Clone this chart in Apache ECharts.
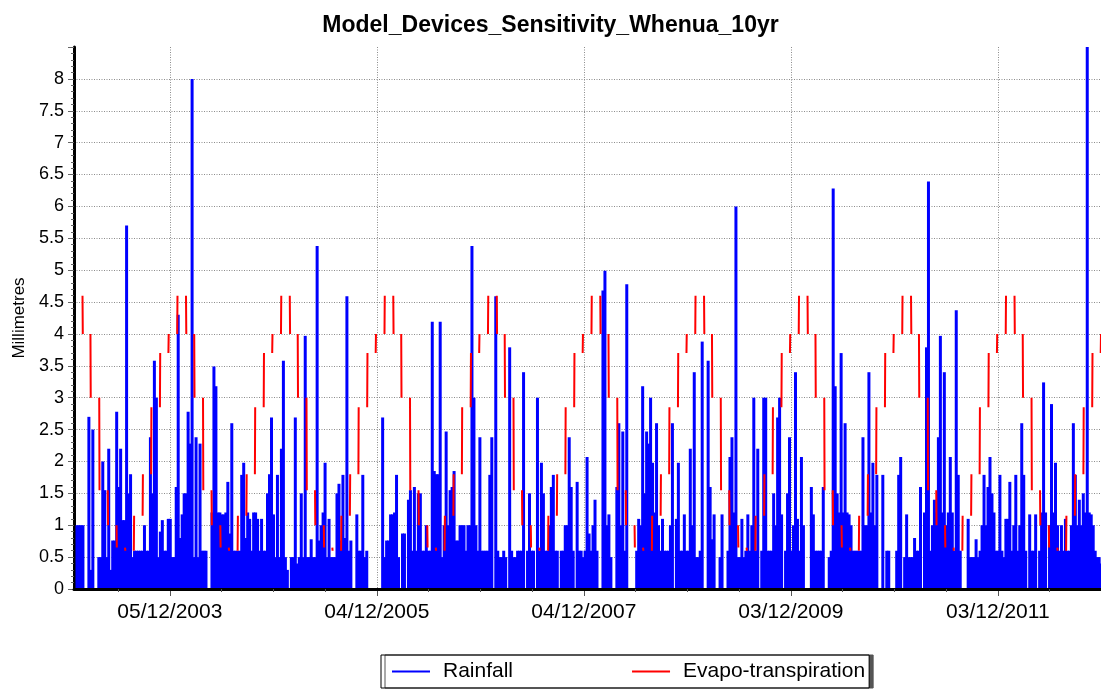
<!DOCTYPE html>
<html>
<head>
<meta charset="utf-8">
<title>Model_Devices_Sensitivity_Whenua_10yr</title>
<script src="https://cdn.jsdelivr.net/npm/echarts@6/dist/echarts.min.js"></script>
<style>
  html, body { margin: 0; padding: 0; background: #fff; }
  #myChart { width: 1101px; height: 689px; }
</style>
</head>
<body>
<div id="myChart"></div>
<script>
// rainfall in mm, one value per 7 days starting 01/01/2003 (peak of the week)
let rain2003 = [0,1.0,1.0,1.0,1.0,0,0,2.7,0.3,2.5, 0,0,0.5,0.5,2.0,1.55,0.5,2.2,0.3,0.76,
  0.76,2.78,1.6,2.2,1.08,1.08,5.7,1.5,1.8,0.5, 0.6,0.6,0.6,0.6,0.6,1.0,0.6,0.6,2.38,1.5,
  3.58,3.0,0.5,0.9,1.08,0.6,0.6,1.1,1.1,0.5, 0.5,1.6];
let rain2004 = [4.3,0.8,1.17,1.5,1.5,2.78,2.28,8.0, 0.5,2.38,0.5,2.28,0.6,0.6,0.6,0,0,1.2,
  3.49,3.18,1.2,1.2,1.17,1.17,1.2,1.68,0.87,2.6, 0.6,0.6,0.6,0.6,1.79,1.98,0.8,1.2,1.1,0.6,
  1.2,1.2,1.1,0.6,1.1,0.6,0.6,1.5,1.8,2.69, 1.17,0.5,1.79,0.5];
let rain2005 = [2.2,3.58,0.5,0.3,0,0.5, 0.5,2.69,0.4,0.5,1.5,0.5,3.97,0.5,0.5,0.78,
  0.5,0.5,5.38,0.76,1.0,1.2,1.98,0.5,1.1,0.5, 0.5,0.5,1.5,1.65,0.76,1.79,0.8,4.59,0.6,0.76,
  0,0,1.17,0.6,0.6,1.79,0.5,0.6,0,0, 0,0,0,0,0,2.69];
let rain2006 = [0.5,0.76,0.76,1.17, 1.17,1.2,1.79,0.5,0,0.87,0.87,0,1.4,1.55,
  0.6,1.6,0.6,1.5,1.5,0.6,0.6,1.0,0.6,0.6, 4.19,1.85,1.8,1.8,4.19,0.5,1.0,2.47,1.0,1.55,
  1.6,1.85,0.76,0.76,1.0,1.0,1.0,0.6,1.0,1.0, 5.38,3.0,1.0,0.6,2.38,0.6,0.6,0.6];
let rain2007 = [0.6,1.79, 2.38,0,4.59,0.6,0.5,0.5,0.6,0.5,0,3.79,
  0.6,0.5,0.5,0.6,0.6,0.6,3.4,0,0.6,1.5, 0.6,0.6,0,3.0,0.6,1.98,1.5,0.6,0.6,1.0,
  1.6,1.79,0.6,0.6,0,0.6,0.6,1.0,1.0,2.38, 1.6,0.6,0,1.68,0.6,0.6,0.5,0.6,2.07,0.87];
let rain2008 = [0.6,1.0,1.4,0.6,0,0,4.68,4.99,1.0,1.17, 0.5,0,0,1.6,2.6,1.0,2.47,0.6,4.78,0,
  0,0,0,0.6,1.1,1.0,3.18,1.5,2.47,2.28, 3.0,1.98,1.2,2.6,1.0,0.6,1.1,0.6,0.6,0.6,
  1.0,2.6,0,1.1,1.98,0.6,0.6,1.17,0.6,0.6, 2.2,1.0];
let rain2009 = [3.4,0.5,0.5,0.6,3.88,0,0,3.58, 1.6,0.78,1.17,0,0,0.5,1.17,0,0,0.6,
  2.07,2.38,1.2,6.0,0.5,0.5,1.1,0.5,0.6,1.17, 0.6,1.0,3.0,0.6,2.2,0,0.6,3.0,3.0,0.6,
  0.6,0.6,1.5,1.0,2.69,3.0,1.17,0,0.6,1.5, 2.38,0.6,1.0,3.4];
let rain2010 = [1.1,0.6,2.07,1.0,0,0, 0,1.6,1.17,0.6,0.6,0.6,0.6,1.6,0,0,
  0.5,0.6,6.28,3.18,1.5,1.2,3.7,1.2,2.6,1.2, 1.17,1.0,0.6,0.6,0.6,0.6,0.6,2.38,1.0,1.0,
  3.4,1.2,1.98,1.0,1.79,0,0,1.79,0,0.6, 0.6,0,0,0,0.6,1.79];
let rain2011 = [2.07,0,0.5,1.17, 0.5,0.5,0.5,0.8,0.6,0.6,1.6,0,1.2,3.79,
  6.39,0.6,1.0,1.4,1.2,2.38,3.97,1.2,3.4,1.0, 1.2,2.07,1.2,0.6,4.37,1.79,0.6,0,0,0,
  1.1,0.5,0.5,0.5,0.78,0.5,0.6,1.0,1.79,1.0, 1.6,2.07,1.5,1.2,0.6,0.6,1.79,0.6];
let rain2012 = [0.5,1.1, 1.1,1.68,0.6,1.0,1.79,0.6,1.0,2.6,1.79,0.6,
  0,1.17,0.6,0.6,1.17,0,0.6,1.2,3.24,1.2, 0,1.0,2.9,1.2,1.98,1.0,0.6,1.0,0.6,1.1,
  0.6,0.6,1.0,2.6,1.79,1.0,1.4,1.0,1.5,1.2, 8.5,1.2,1.17,1.0,0.6,0.5,0.5,0.4];

// monthly evapo-transpiration (mm/day), Jan..Dec, same every year
let etMonthly = [4.6, 4.0, 3.0, 1.55, 1.0, 0.65, 0.6, 1.15, 1.8, 2.85, 3.7, 4.0];

let startDate = '2003-01-01';
let endDate = '2012-12-01';
let tickDates = ['2003-12-05', '2005-12-04', '2007-12-04', '2009-12-03', '2011-12-03'];

// x axis runs in days counted from startDate
const DAY = 86400000;
let t0 = Date.parse(startDate);
let dayOf = s => (Date.parse(s) - t0) / DAY;
let lastDay = dayOf(endDate);

let rainWeekly = [].concat(rain2003, rain2004, rain2005, rain2006, rain2007,
  rain2008, rain2009, rain2010, rain2011, rain2012);
let rainData = rainWeekly.map((v, i) => [i * 7 + 3.5, v]);

// only the step from one month to the next shows up in the original plot
let etData = [];
for (let y = 2003; y <= 2012; y++) {
  for (let m = 0; m < 12; m++) {
    let next = (Date.UTC(y, m + 1, 1) - t0) / DAY;
    if (next > lastDay) break;
    etData.push([next - 1, etMonthly[m]]);
    etData.push([next, etMonthly[(m + 1) % 12]]);
    etData.push([next, '-']);
  }
}

let majorTicks = tickDates.map(dayOf);
let minorTicks = [];
majorTicks.forEach((d, i) => {
  if (i === 0) minorTicks.push(d - 182.5);
  [182.5, 365, 547.5].forEach(k => {
    if (d + k < lastDay) minorTicks.push(d + k);
  });
});

function fmtDate(v) {
  let d = new Date(t0 + Math.round(v) * DAY);
  let p = n => (n < 10 ? '0' : '') + n;
  return p(d.getUTCDate()) + '/' + p(d.getUTCMonth() + 1) + '/' + d.getUTCFullYear();
}

let font = 'Liberation Sans';
let gridLine = { color: '#8c8c8c', width: 1, type: [1, 1.5] };

let myChart = echarts.init(document.getElementById('myChart'));
let option = {
  animation: false,
  backgroundColor: '#fff',
  textStyle: { fontFamily: font },
  title: {
    text: 'Model_Devices_Sensitivity_Whenua_10yr',
    left: 'center',
    top: 9,
    textStyle: { fontFamily: font, fontSize: 23, fontWeight: 'bold', color: '#000' }
  },
  grid: { left: 74, right: 0, top: 47, bottom: 100, containLabel: false },
  legend: {
    left: 381,
    top: 655,
    data: ['Rainfall', 'Evapo-transpiration'],
    icon: 'rect',
    itemWidth: 38,
    itemHeight: 2,
    itemGap: 119,
    padding: [6, 4, 6, 11],
    borderColor: '#000',
    borderWidth: 1,
    backgroundColor: '#fff',
    shadowColor: '#555',
    shadowBlur: 0,
    shadowOffsetX: 4,
    textStyle: { fontFamily: font, fontSize: 21, color: '#000', padding: [0, 0, 0, 8] }
  },
  xAxis: [
    {
      type: 'value',
      min: 0,
      max: lastDay,
      axisLine: { show: false },
      axisTick: { show: true, customValues: majorTicks, length: 7, lineStyle: { color: '#555' } },
      axisLabel: { customValues: majorTicks, formatter: fmtDate, fontSize: 21, color: '#000', margin: 13 },
      splitLine: { show: true, lineStyle: gridLine }
    },
    {
      // minor ticks and the heavy axis line, kept above the bars
      type: 'value',
      min: 0,
      max: lastDay,
      position: 'bottom',
      z: 10,
      axisLine: { show: true, lineStyle: { color: '#000', width: 3 } },
      axisTick: { show: true, customValues: minorTicks, length: 3, lineStyle: { color: '#555' } },
      axisLabel: { show: false },
      splitLine: { show: false }
    }
  ],
  yAxis: {
    type: 'value',
    min: 0,
    max: 8.5,
    interval: 0.5,
    name: 'Millimetres',
    nameLocation: 'middle',
    nameGap: 46,
    nameRotate: 90,
    nameTextStyle: { fontFamily: font, fontSize: 17, color: '#000' },
    axisLine: { show: true, lineStyle: { color: '#000', width: 3 } },
    axisTick: { show: true, length: 6, lineStyle: { color: '#666' } },
    minorTick: { show: true, splitNumber: 5, length: 3, lineStyle: { color: '#666' } },
    axisLabel: { fontSize: 18, color: '#000', margin: 10, showMaxLabel: false },
    splitLine: { show: true, showMaxLine: false, lineStyle: gridLine }
  },
  series: [
    {
      name: 'Rainfall',
      type: 'bar',
      xAxisIndex: 0,
      data: rainData,
      barWidth: 3,
      itemStyle: { color: '#0000ff' }
    },
    {
      name: 'Evapo-transpiration',
      type: 'line',
      xAxisIndex: 0,
      data: etData,
      symbol: 'none',
      connectNulls: false,
      itemStyle: { color: '#ff0000' },
      lineStyle: { color: '#ff0000', width: 2 },
      z: 3
    }
  ]
};
myChart.setOption(option);
</script>
</body>
</html>
